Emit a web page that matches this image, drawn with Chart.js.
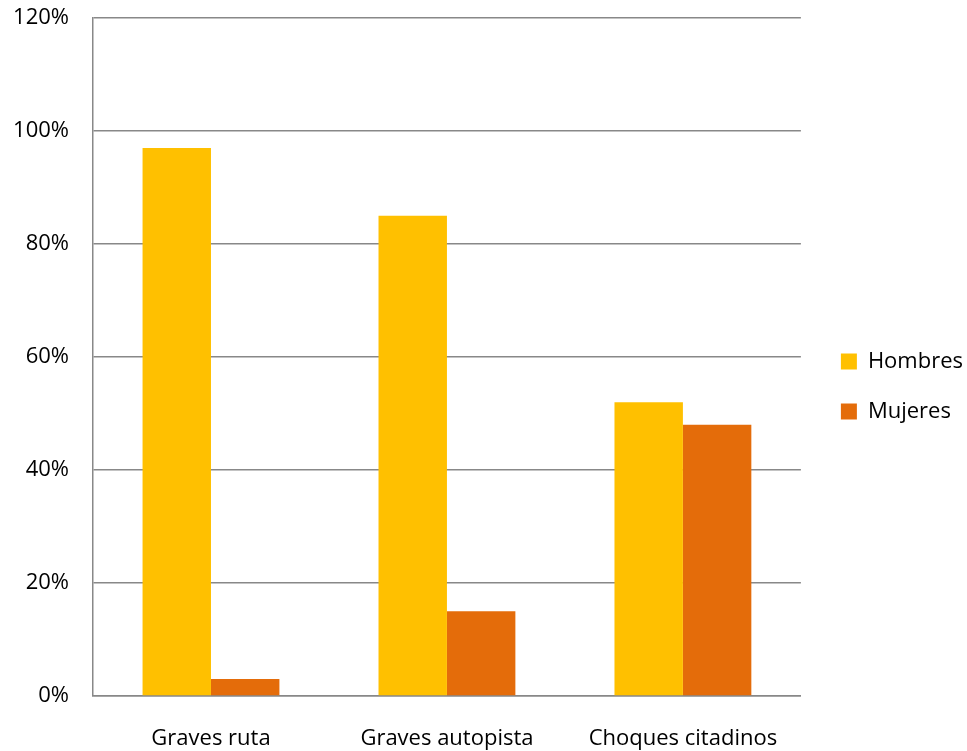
<!DOCTYPE html>
<html>
<head>
<meta charset="utf-8">
<script src="https://cdn.jsdelivr.net/npm/chart.js@4/dist/chart.umd.min.js"></script>
<style>
  html, body { margin: 0; padding: 0; background: #fff; }
  #wrap { width: 967px; height: 751px; }
</style>
</head>
<body>
<div id="wrap"><canvas id="c"></canvas></div>
<script>
const categories = ['Graves ruta', 'Graves autopista', 'Choques citadinos'];
const hombres = [97, 85, 52];
const mujeres = [3, 15, 48];
const yTicks = [0, 20, 40, 60, 80, 100, 120];

const FONT = "'Open Sans', 'Liberation Sans', sans-serif";

// move the legend where the original has it
const legendShift = {
  id: 'legendShift',
  afterLayout(chart) {
    const lg = chart.legend;
    if (!lg) return;
    lg.top += 2;
    lg.bottom += 2;
    lg.left += 12;
    lg.right += 12;
  },
};

const ctx = document.getElementById('c').getContext('2d');
new Chart(ctx, {
  type: 'bar',
  data: {
    labels: categories,
    datasets: [
      { label: 'Hombres', data: hombres, backgroundColor: '#FFC000' },
      { label: 'Mujeres', data: mujeres, backgroundColor: '#E46C0A' },
    ],
  },
  options: {
    responsive: true,
    maintainAspectRatio: false,
    animation: false,
    layout: { padding: { top: 18, right: 6, bottom: 0, left: 12 } },
    datasets: { bar: { categoryPercentage: 0.58, barPercentage: 1 } },
    plugins: {
      legend: {
        position: 'right',
        labels: {
          boxWidth: 16,
          boxHeight: 16,
          padding: 28,
          color: '#000',
          font: { family: FONT, size: 22 },
        },
      },
      tooltip: { enabled: false },
    },
    scales: {
      x: {
        grid: { display: false, drawTicks: false },
        border: { color: '#888', width: 1.5 },
        ticks: { color: '#000', padding: 30, font: { family: FONT, size: 22 } },
        afterFit: (axis) => { axis.height = 55; axis.paddingLeft = 0; axis.paddingRight = 0; },
      },
      y: {
        min: 0,
        max: 120,
        afterBuildTicks: (axis) => { axis.ticks = yTicks.map(v => ({ value: v })); },
        afterFit: (axis) => { axis.width = 81; axis.paddingTop = 0; axis.paddingBottom = 0; },
        grid: { color: '#888', lineWidth: 1.5, drawTicks: false },
        border: { color: '#888', width: 1.5 },
        ticks: {
          color: '#000',
          padding: 24,
          font: { family: FONT, size: 22 },
          callback: (v) => v + '%',
        },
      },
    },
  },
  plugins: [legendShift],
});
</script>
</body>
</html>
